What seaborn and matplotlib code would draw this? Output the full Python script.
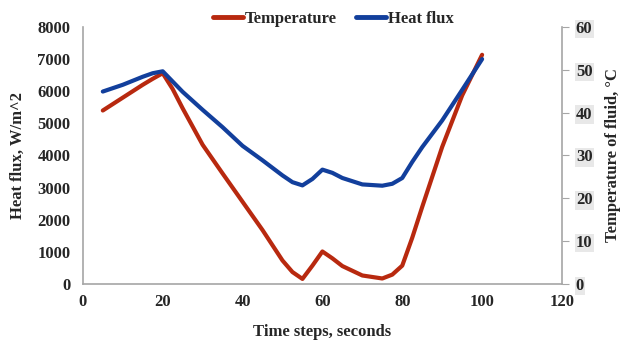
import pandas as pd
import matplotlib
matplotlib.use("Agg")
import matplotlib.pyplot as plt
import seaborn as sns
from matplotlib.lines import Line2D

# values
time_s = [5, 10, 15, 17.5, 20, 22.5, 25, 30, 35, 40, 45, 50, 52.5, 55, 57.5, 60, 62.5,
          65, 70, 75, 77.5, 80, 82.5, 85, 90, 95, 100]
heat_flux = [5990, 6200, 6450, 6560, 6620, 6300, 5980, 5420, 4880, 4300, 3850, 3380, 3170,
             3070, 3270, 3560, 3460, 3300, 3100, 3060, 3120, 3300, 3800, 4260, 5090, 6040, 7000]
temperature = [40.5, 43.5, 46.5, 47.9, 49.2, 45.5, 41.0, 32.5, 25.8, 19.2, 12.6, 5.5, 2.8,
               1.2, 4.3, 7.6, 6.0, 4.2, 2.0, 1.3, 2.2, 4.3, 10.8, 18.0, 32.0, 44.0, 53.5]

df = pd.DataFrame({"time": time_s, "flux": heat_flux, "temp": temperature})

red = "#b8290f"
blue = "#123f9c"

sns.set_style("white")
plt.rcParams["font.family"] = ["Liberation Serif", "DejaVu Serif"]
plt.rcParams["font.weight"] = "bold"

fs = 12

fig = plt.figure(figsize=(6.23, 3.41), dpi=100)
ax = fig.add_axes([0.133, 0.167, 0.769, 0.754])
ax2 = ax.twinx()

sns.lineplot(data=df, x="time", y="temp", ax=ax2, color=red, linewidth=3,
             solid_joinstyle="round", solid_capstyle="round")
sns.lineplot(data=df, x="time", y="flux", ax=ax, color=blue, linewidth=3,
             solid_joinstyle="round", solid_capstyle="round")
# blue drawn over red like the reference
ax.set_zorder(ax2.get_zorder() + 1)
ax.patch.set_visible(False)

ax.set_xlim(0, 120)
ax.set_ylim(0, 8000)
ax2.set_ylim(0, 60)
ax.set_xticks(range(0, 121, 20))
ax.set_yticks(range(0, 8001, 1000))
ax2.set_yticks(range(0, 61, 10))

for a in (ax, ax2):
    for s in a.spines.values():
        s.set_visible(False)
ax.spines["left"].set_visible(True)
ax.spines["bottom"].set_visible(True)
ax2.spines["right"].set_visible(True)
for s in (ax.spines["left"], ax.spines["bottom"], ax2.spines["right"]):
    s.set_color("#a6a6a6")
    s.set_linewidth(1.2)

ax.tick_params(axis="y", length=0, labelsize=fs, pad=9)
ax.tick_params(axis="x", length=0, labelsize=fs, pad=7)
ax2.tick_params(axis="y", length=5, color="#a6a6a6", labelsize=fs, pad=5)
for lab in ax.get_xticklabels() + ax.get_yticklabels() + ax2.get_yticklabels():
    lab.set_fontweight("bold")
for lab in ax2.get_yticklabels():
    lab.set_bbox(dict(facecolor="#e8e8e8", edgecolor="none", pad=0.8))

ax.set_xlabel("Time steps, seconds", fontsize=fs, fontweight="bold", labelpad=10)
ax.set_ylabel("Heat flux, W/m^2", fontsize=fs, fontweight="bold", labelpad=8)
ax2.set_ylabel("Temperature of fluid, \u00b0C", fontsize=fs, fontweight="bold", labelpad=9)

handles = [Line2D([], [], color=red, linewidth=3.5),
           Line2D([], [], color=blue, linewidth=3.5)]
fig.legend(handles, ["Temperature", "Heat flux"], loc="center", bbox_to_anchor=(0.535, 0.945),
           ncol=2, frameon=False, handlelength=1.8, handletextpad=0.1,
           columnspacing=1.2, prop={"weight": "bold", "size": fs})

fig.savefig("out.png", dpi=100)
